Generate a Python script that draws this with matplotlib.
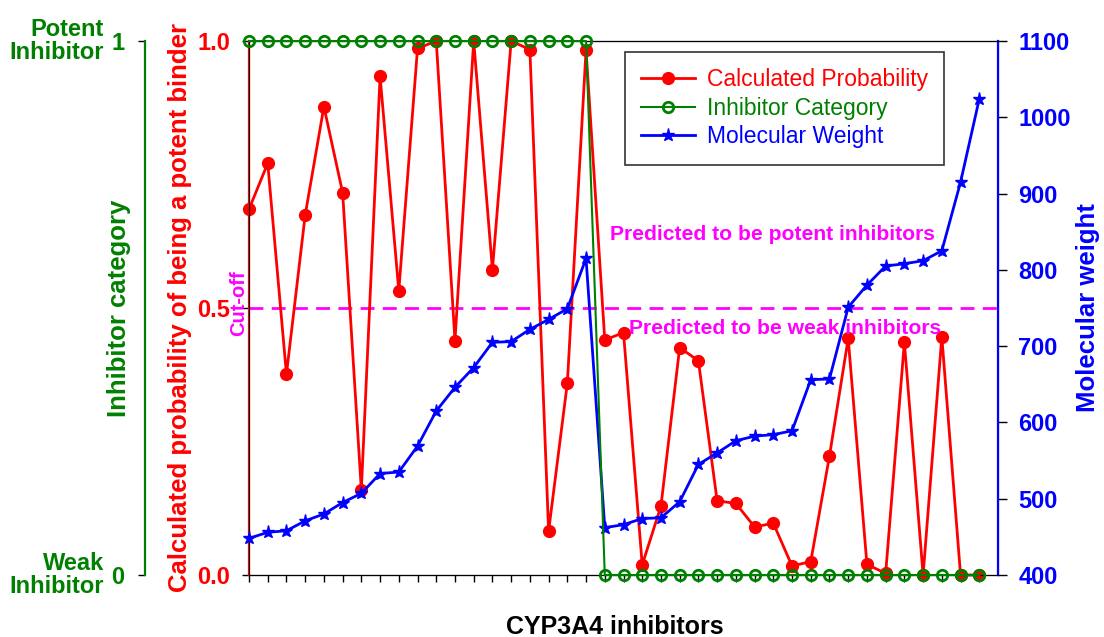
import matplotlib
matplotlib.use("Agg")
import matplotlib.pyplot as plt
import numpy as np
from matplotlib.lines import Line2D

plt.rcParams['font.family'] = ['Liberation Sans', 'DejaVu Sans']

probability = [0.685, 0.771, 0.376, 0.674, 0.877, 0.716, 0.159, 0.934, 0.532, 0.986,
               1.000, 0.439, 1.000, 0.572, 1.000, 0.984, 0.082, 0.359, 0.983, 0.440,
               0.454, 0.019, 0.129, 0.426, 0.401, 0.139, 0.134, 0.090, 0.097, 0.017,
               0.025, 0.223, 0.443, 0.020, 0.003, 0.436, 0.000, 0.446, 0.000, 0.000]
category = [1]*19 + [0]*21
mol_weight = [448, 456, 458, 471, 480, 495, 507, 533, 535, 569,
              615, 646, 672, 705, 706, 722, 735, 749, 815, 462,
              466, 474, 475, 496, 545, 560, 576, 582, 584, 589,
              656, 657, 751, 780, 805, 808, 812, 825, 915, 1024]
cutoff = 0.5
x = np.arange(len(probability))

W, H = 1104, 637
fig = plt.figure(figsize=(W/100, H/100), dpi=100)
L, R, T, B = 249, 998, 41, 575
ax = fig.add_axes([L/W, 1-B/H, (R-L)/W, (B-T)/H])
ax2 = ax.twinx()
ax3 = ax.twinx()

def ax_x(px):
    return (px - L) / (R - L)

def ax_y(py):
    return (B - py) / (B - T)

red_style = dict(color='red', lw=2, marker='o', ms=8.5)
green_style = dict(color='green', lw=1.5, marker='o', ms=7.5, mfc='none', mec='green', mew=2)
blue_style = dict(color='blue', lw=2, marker='*', ms=9.5)

# red probability
ax.plot(x, probability, zorder=3, clip_on=False, **red_style)
ax.axhline(cutoff, color='magenta', lw=2, ls=(0, (5, 3)), zorder=2)
ax.set_xlim(0, 40)
ax.set_ylim(0, 1)
ax.set_xticks(x)
ax.set_xticklabels([])
ax.tick_params(axis='x', direction='out', length=5, width=1, colors='black')
ax.set_yticks([0, 0.5, 1.0])
ax.set_yticklabels(['0.0', '0.5', '1.0'])
ax.tick_params(axis='y', direction='out', length=5, width=1, pad=8.5, colors='black',
               labelcolor='red', labelsize=17)
for lab in ax.get_yticklabels():
    lab.set_fontweight('bold')
ax.spines['left'].set_color('red')
ax.spines['left'].set_linewidth(1.6)
ax.set_ylabel('Calculated probability of being a potent binder', color='red',
              fontsize=18.5, fontweight='bold')
ax.yaxis.set_label_coords(ax_x(180), 0.5)
ax.yaxis.label.set_va('center')
ax.set_xlabel('CYP3A4 inhibitors', fontsize=18, fontweight='bold')
ax.xaxis.set_label_coords(ax_x(615), ax_y(627))
ax.xaxis.label.set_va('center')

# blue molecular weight
ax2.plot(x, mol_weight, zorder=3, clip_on=False, **blue_style)
ax2.set_ylim(400, 1100)
ax2.set_yticks(np.arange(400, 1101, 100))
ax2.tick_params(axis='y', direction='out', length=6.5, width=1, pad=8, colors='black',
                labelcolor='blue', labelsize=17)
for lab in ax2.get_yticklabels():
    lab.set_fontweight('bold')
ax2.spines['right'].set_color('blue')
ax2.spines['right'].set_linewidth(1.6)
ax2.set_ylabel('Molecular weight', color='blue', fontsize=18.5, fontweight='bold')
ax2.yaxis.set_label_coords(ax_x(1088), 0.5)
ax2.yaxis.label.set_va('center')

# green category
ax3.plot(x, category, zorder=3, clip_on=False, **green_style)
ax3.set_ylim(0, 1)
ax3.spines['right'].set_visible(False)
ax3.spines['left'].set_visible(True)
ax3.spines['left'].set_position(('outward', (L - 145) * 0.72))
ax3.spines['left'].set_color('green')
ax3.spines['left'].set_linewidth(1.6)
ax3.yaxis.set_ticks_position('left')
ax3.yaxis.set_label_position('left')
ax3.set_yticks([0, 1])
ax3.set_yticklabels(['0', '1'])
ax3.tick_params(axis='y', direction='out', length=5, width=1, pad=10, colors='black',
                labelcolor='green', labelsize=17)
for lab in ax3.get_yticklabels():
    lab.set_fontweight('bold')
ax3.set_ylabel('Inhibitor category', color='green', fontsize=18.5, fontweight='bold')
ax3.yaxis.set_label_coords(ax_x(119), 0.5)
ax3.yaxis.label.set_va('center')
ax3.text(ax_x(104), 1.0, 'Potent\nInhibitor', transform=ax3.transAxes, ha='right',
         va='center', color='green', fontsize=17, fontweight='bold',
         multialignment='right', linespacing=1.0)
ax3.text(ax_x(104), 0.0, 'Weak\nInhibitor', transform=ax3.transAxes, ha='right',
         va='center', color='green', fontsize=17, fontweight='bold',
         multialignment='right', linespacing=1.0)

# annotations
ax.text(ax_x(239), ax_y(303), 'Cut-off', transform=ax.transAxes, rotation=90,
        ha='center', va='center', color='magenta', fontsize=14.5, fontweight='bold')
ax.text(ax_x(772), ax_y(234), 'Predicted to be potent inhibitors', transform=ax.transAxes,
        ha='center', va='center', color='magenta', fontsize=15.2, fontweight='bold')
ax.text(ax_x(785), ax_y(329), 'Predicted to be weak inhibitors', transform=ax.transAxes,
        ha='center', va='center', color='magenta', fontsize=15.2, fontweight='bold')

handles = [Line2D([], [], **red_style), Line2D([], [], **green_style),
           Line2D([], [], **blue_style)]
labels = ['Calculated Probability', 'Inhibitor Category', 'Molecular Weight']
leg = ax3.legend(handles, labels, loc='upper left', bbox_to_anchor=(625/W, 1-52/H),
                 bbox_transform=fig.transFigure, fontsize=16.5, frameon=True,
                 fancybox=False, edgecolor='black', handlelength=2.36,
                 handletextpad=0.5, borderpad=0.7, labelspacing=0.25,
                 borderaxespad=0)
leg.get_frame().set_linewidth(1.2)
for t, c in zip(leg.get_texts(), ['red', 'green', 'blue']):
    t.set_color(c)

fig.savefig('out.png', dpi=100)
